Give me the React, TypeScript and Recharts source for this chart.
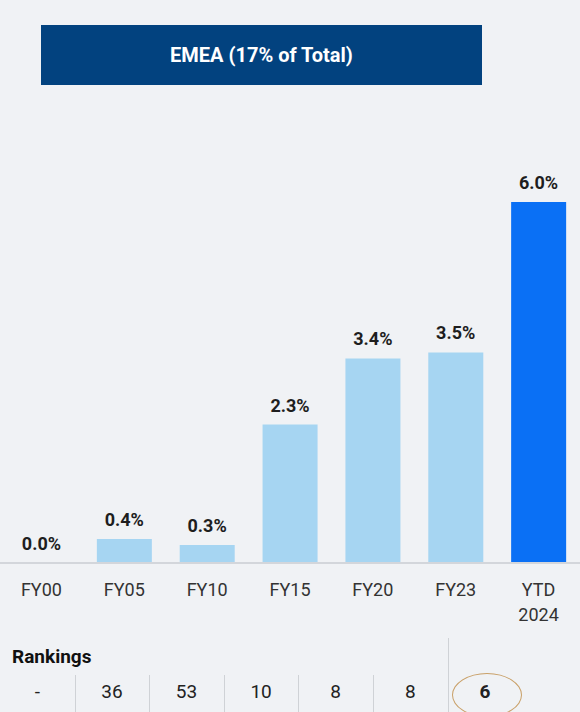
import React from "react";
import { ComposedChart, Bar, Line, XAxis, YAxis, Cell, LabelList } from "recharts";

const categories = ["FY00", "FY05", "FY10", "FY15", "FY20", "FY23", "YTD 2024"];
const values = [0.0, 0.4, 0.3, 2.3, 3.4, 3.5, 6.0];
const rankings = ["-", "36", "53", "10", "8", "8", "6"];

const data = categories.map((name, i) => ({ name, value: values[i] }));

const FONT = "Roboto, 'Noto Sans', sans-serif";

// @ts-ignore
const Tick = ({ x, y, payload }) => {
    const lines = String(payload.value).split(" ");
    return (
        <text x={x} y={y} textAnchor="middle" fill="#333" fontSize={18} fontFamily={FONT}>
            {lines.map((l, i) => (
                <tspan key={i} x={x} dy={25}>{l}</tspan>
            ))}
        </text>
    );
};

// labels hang off an invisible line so the 0.0% bar gets one too
// @ts-ignore
const ValueLabel = (props) => {
    const { x, y, value } = props;
    return (
        <text x={Number(x)} y={Number(y) - 13} textAnchor="middle" fontSize={18} fontWeight={700} fill="#1e1e1e" fontFamily={FONT}>
            {Number(value).toFixed(1) + "%"}
        </text>
    );
};

const App = () => {
    const cellW = 74.6;
    return (
        <div style={{ position: "fixed", left: 0, top: 0, width: 580, height: 712, background: "#f0f2f5", fontFamily: FONT, overflow: "hidden" }}>
            <div style={{ position: "absolute", left: 41, top: 25, width: 441, height: 60, background: "#02427f", color: "#fff", fontWeight: 700, fontSize: 20, display: "flex", alignItems: "center", justifyContent: "center" }}>
                EMEA (17% of Total)
            </div>
            <div style={{ position: "absolute", left: 0, top: 0 }}>
                <ComposedChart width={580} height={640} data={data} margin={{ top: 202, right: 0, bottom: 0, left: 0 }} barCategoryGap={0}>
                    <YAxis hide domain={[0, 6]} />
                    <XAxis dataKey="name" axisLine={{ stroke: "#d3d6db", strokeWidth: 2 }} tickLine={false} height={77} interval={0} tick={Tick} />
                    <Bar dataKey="value" barSize={55} isAnimationActive={false}>
                        {data.map((d, i) => (
                            <Cell key={i} fill={i === data.length - 1 ? "#0a70f5" : "#a6d5f2"} />
                        ))}
                    </Bar>
                    <Line dataKey="value" stroke="none" dot={false} activeDot={false} isAnimationActive={false}>
                        <LabelList dataKey="value" content={ValueLabel} />
                    </Line>
                </ComposedChart>
            </div>
            <div style={{ position: "absolute", left: 12, top: 645, fontWeight: 700, fontSize: 19, color: "#111" }}>Rankings</div>
            {rankings.map((r, i) => (
                <div key={i} style={{ position: "absolute", left: i * cellW, top: 680, width: cellW, textAlign: "center", fontSize: 19, color: "#222", fontWeight: i === rankings.length - 1 ? 700 : 400 }}>{r}</div>
            ))}
            {rankings.slice(1).map((_, i) => (
                <div key={i} style={{ position: "absolute", left: (i + 1) * cellW, top: i === rankings.length - 2 ? 638 : 675, width: 1, height: 80, background: "#cfd2d6" }} />
            ))}
            <div style={{ position: "absolute", left: 452, top: 673, width: 70, height: 44, border: "1.5px solid #c9a068", borderRadius: "50%", boxSizing: "border-box" }} />
        </div>
    );
};

export default App;
